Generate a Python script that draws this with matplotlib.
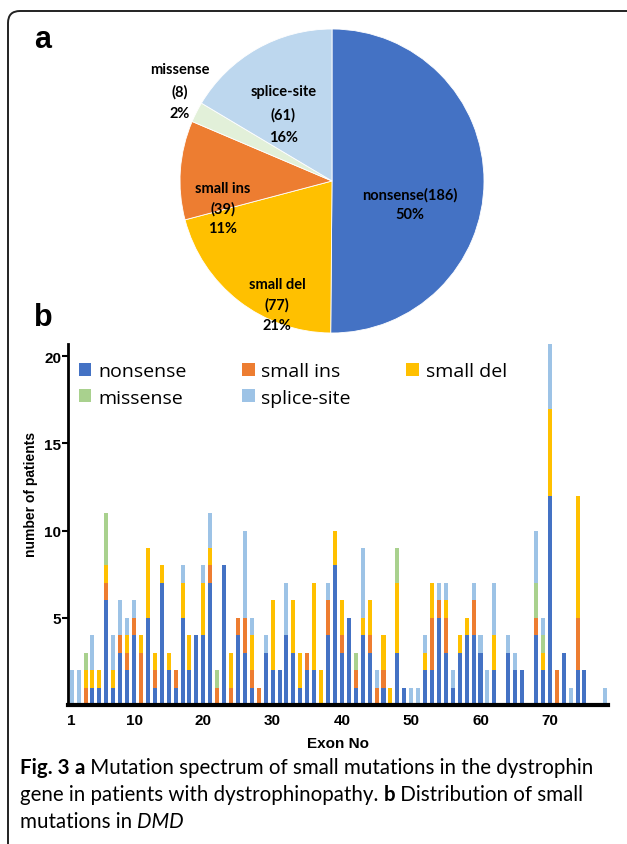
import matplotlib
matplotlib.use("Agg")
import matplotlib.pyplot as plt
from matplotlib.patches import FancyBboxPatch
from matplotlib.transforms import IdentityTransform
import numpy as np

# ---- panel a data
pie_names = ["nonsense", "small del", "small ins", "missense", "splice-site"]
pie_counts = [186, 77, 39, 8, 61]
pie_colors = ["#4472C4", "#FFC000", "#ED7D31", "#E2F0D9", "#BDD7EE"]

# ---- panel b data (patients per exon, exons 1..78)
exons = np.arange(1, 79)
nonsense = [0, 0, 0, 1, 1, 6, 1, 3, 2, 4,
            0, 5, 1, 7, 2, 1, 5, 2, 4, 4,
            7, 0, 8, 0, 4, 3, 1, 0, 3, 2,
            2, 4, 3, 1, 2, 2, 0, 4, 8, 3,
            5, 1, 4, 3, 0, 1, 0, 3, 1, 0,
            0, 2, 2, 5, 3, 1, 3, 4, 4, 3,
            0, 2, 0, 3, 2, 2, 0, 4, 2, 12,
            0, 3, 0, 2, 2, 0, 0, 0]
small_ins = [0, 0, 1, 0, 0, 1, 0, 1, 1, 1,
             3, 0, 1, 0, 0, 1, 0, 0, 0, 0,
             1, 1, 0, 1, 1, 2, 1, 1, 0, 0,
             0, 0, 0, 0, 1, 0, 0, 2, 0, 1,
             0, 1, 0, 1, 1, 1, 0, 0, 0, 0,
             0, 0, 3, 1, 2, 0, 0, 0, 2, 0,
             0, 0, 0, 0, 0, 0, 0, 1, 0, 0,
             2, 0, 0, 3, 0, 0, 0, 0]
small_del = [0, 0, 1, 1, 1, 1, 1, 0, 1, 0,
             1, 4, 1, 1, 1, 0, 2, 2, 0, 3,
             1, 0, 0, 2, 0, 0, 2, 0, 0, 4,
             0, 0, 3, 2, 0, 5, 2, 0, 2, 2,
             0, 0, 1, 2, 0, 2, 1, 4, 0, 0,
             0, 1, 2, 0, 1, 0, 1, 1, 0, 0,
             0, 2, 0, 0, 0, 0, 0, 0, 1, 5,
             0, 0, 0, 7, 0, 0, 0, 0]
missense = [0, 0, 1, 0, 0, 3, 0, 0, 0, 0,
            0, 0, 0, 0, 0, 0, 0, 0, 0, 0,
            0, 1, 0, 0, 0, 0, 0, 0, 0, 0,
            0, 0, 0, 0, 0, 0, 0, 0, 0, 0,
            0, 1, 0, 0, 0, 0, 0, 2, 0, 0,
            0, 0, 0, 0, 0, 0, 0, 0, 0, 0,
            0, 0, 0, 0, 0, 0, 0, 2, 1, 0,
            0, 0, 0, 0, 0, 0, 0, 0]
splice = [2, 2, 0, 2, 0, 0, 2, 2, 1, 1,
          0, 0, 0, 0, 0, 0, 1, 0, 0, 1,
          2, 0, 0, 0, 0, 5, 1, 0, 1, 0,
          0, 3, 0, 0, 0, 0, 0, 1, 0, 0,
          0, 0, 4, 0, 1, 0, 0, 0, 0, 1,
          1, 1, 0, 1, 1, 1, 0, 0, 1, 1,
          2, 3, 0, 1, 1, 0, 0, 3, 1, 4,
          0, 0, 1, 0, 0, 0, 0, 1]
bar_series = [("nonsense", nonsense, "#4472C4"),
              ("small ins", small_ins, "#ED7D31"),
              ("small del", small_del, "#FFC000"),
              ("missense", missense, "#A9D18E"),
              ("splice-site", splice, "#9DC3E6")]
xticks = [1, 10, 20, 30, 40, 50, 60, 70]

W, H = 627, 845
fig = plt.figure(figsize=(W / 100, H / 100), dpi=100)

# outer rounded frame
frame = FancyBboxPatch((8, -30), 660, H - 12 + 30,
                       boxstyle="round,pad=0,rounding_size=12",
                       transform=IdentityTransform(), fill=False,
                       edgecolor="#222222", linewidth=1.4)
fig.add_artist(frame)

# ---- pie
cx, cy, r = 332, 182, 152
axp = fig.add_axes([(cx - r) / W, 1 - (cy + r) / H, 2 * r / W, 2 * r / H])
axp.pie(pie_counts, colors=pie_colors, startangle=90, counterclock=False,
        wedgeprops=dict(linewidth=0.6, edgecolor="white"))
axp.set_xlim(-1, 1)
axp.set_ylim(-1, 1)
axp.set_aspect("equal")
axp.axis("off")

total = sum(pie_counts)
label_pos = [(0.51, -0.15), (-0.36, -0.81), (-0.72, -0.18), (-1.0, 0.59), (-0.32, 0.44)]
label_spacing = [1.5, 1.55, 1.5, 1.7, 1.75]
for name, n, (lx, ly), ls in zip(pie_names, pie_counts, label_pos, label_spacing):
    pct = f"{round(100 * n / total)}%"
    if name == "nonsense":
        txt = f"{name}({n})\n{pct}"
    else:
        txt = f"{name}\n({n})\n{pct}"
    axp.text(lx, ly, txt, ha="center", va="center", fontsize=10.5,
             fontweight="bold", family="Lato", linespacing=ls,
             clip_on=False)

fig.text(34 / W, 1 - 48 / H, "a", fontsize=22, fontweight="bold",
         family="Liberation Sans")
fig.text(34 / W, 1 - 326 / H, "b", fontsize=22, fontweight="bold",
         family="Liberation Sans")

# ---- stacked bars
ax = fig.add_axes([68 / W, 1 - 706 / H, 540 / W, 361 / H])
bottom = np.zeros(len(exons))
handles = {}
for name, vals, col in bar_series:
    vals = np.array(vals)
    b = ax.bar(exons, vals, bottom=bottom, width=0.58, color=col,
               label=name, linewidth=0)
    handles[name] = b
    bottom += vals

ax.set_xlim(0.47, 78.4)
ax.set_ylim(0, 20.7)
ax.set_xticks(xticks)
ax.set_yticks([5, 10, 15, 20])
for s in ["top", "right"]:
    ax.spines[s].set_visible(False)
ax.spines["left"].set_linewidth(2)
ax.spines["bottom"].set_linewidth(3)
ax.tick_params(axis="x", length=0, pad=6)
ax.tick_params(axis="y", length=4, width=1.5, pad=1)
for t in ax.get_xticklabels() + ax.get_yticklabels():
    t.set_fontweight("bold")
    t.set_fontsize(11)
    t.set_family("Liberation Sans")
ax.set_xlabel("Exon No", fontsize=11, fontweight="bold",
              family="Liberation Sans", labelpad=6)
ax.set_ylabel("number of patients", fontsize=10, fontweight="bold",
              family="Liberation Sans")
ax.yaxis.set_label_coords(-0.056, 0.585)

order = ["nonsense", "missense", "small ins", "splice-site", "small del"]
ax.legend([handles[k] for k in order], order, ncol=3, frameon=False,
          loc="upper left", bbox_to_anchor=(0.02, 0.95), borderpad=0,
          borderaxespad=0, handlelength=0.65, handleheight=0.65,
          handletextpad=0.35, columnspacing=2.85, labelspacing=0.45,
          prop={"family": "Open Sans", "size": 14})

# ---- caption
cap = fig.add_axes([0, 0, 1, 1])
cap.axis("off")
cap.set_zorder(-1)
fs = 14.8
lines = [
    [("Fig. 3", "bold", "normal"), (" a", "bold", "normal"),
     (" Mutation spectrum of small mutations in the dystrophin", "normal", "normal")],
    [("gene in patients with dystrophinopathy. ", "normal", "normal"),
     ("b", "bold", "normal"), (" Distribution of small", "normal", "normal")],
    [("mutations in ", "normal", "normal"), ("DMD", "normal", "italic")],
]
ybase = [778, 805, 832]
for runs, yb in zip(lines, ybase):
    prev = None
    for txt, wt, st in runs:
        if prev is None:
            prev = cap.text(20 / W, 1 - yb / H, txt, fontsize=fs, fontweight=wt,
                            style=st, family="Lato", va="bottom", ha="left",
                            transform=cap.transAxes)
        else:
            prev = cap.annotate(txt, xy=(1, 0), xycoords=prev, fontsize=fs,
                                fontweight=wt, style=st, family="Lato",
                                va="bottom", ha="left")

fig.savefig("out.png", dpi=100)
